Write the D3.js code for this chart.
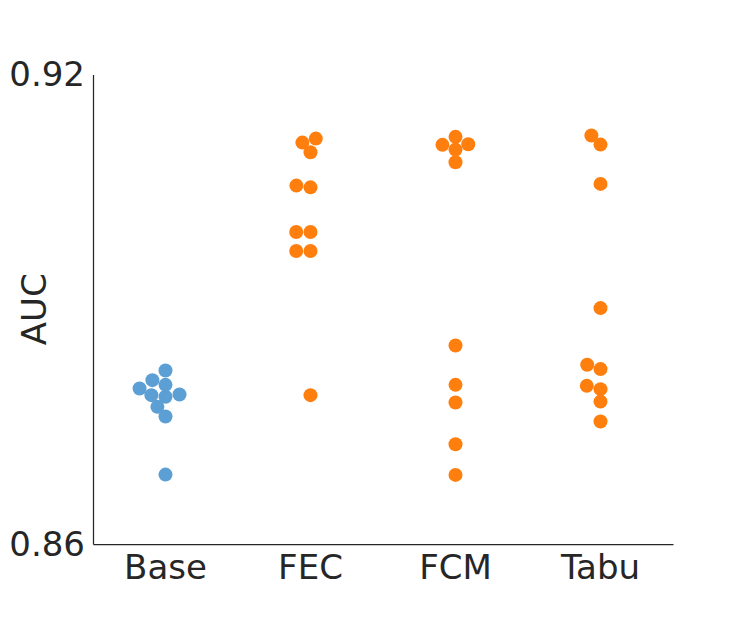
<!DOCTYPE html>
<html>
<head>
<meta charset="utf-8">
<script src="https://cdn.jsdelivr.net/npm/d3@7"></script>
<style>
  body { margin: 0; background: #fff; }
  text { font-family: "DejaVu Sans", sans-serif; fill: #262626; }
</style>
</head>
<body>
<div id="container"></div>
<script>
// data
const categories = ["Base", "FEC", "FCM", "Tabu"];
const baseAUC = [0.88217, 0.88094, 0.88034, 0.87987, 0.87902, 0.87881, 0.87910, 0.87753, 0.87629, 0.86887];
const fecAUC  = [0.91181, 0.91130, 0.91006, 0.90580, 0.90558, 0.89988, 0.89988, 0.89745, 0.89745, 0.87902];
const fcmAUC  = [0.91203, 0.91108, 0.91101, 0.91040, 0.90878, 0.88537, 0.88034, 0.87808, 0.87275, 0.86883];
const tabuAUC = [0.91220, 0.91104, 0.90602, 0.89015, 0.88290, 0.88235, 0.88021, 0.87979, 0.87820, 0.87565];
const seriesValues = [baseAUC, fecAUC, fcmAUC, tabuAUC];
const yTicks = [0.86, 0.92];
const colors = ["#5b9fd4", "#ff7f0e", "#ff7f0e", "#ff7f0e"];

// layout
const svgWidth = 747;
const svgHeight = 623;
const margin = { left: 93, right: 74, top: 74.5, bottom: 79 };
const fontSize = "34px";
const dotRadius = 7;
const collide = 11.8;   // collision distance between centres
const spread = 1.21;    // extra nudge when moving sideways

const x = d3.scaleBand()
  .domain(categories)
  .range([margin.left, svgWidth - margin.right])
  .padding(0);

const y = d3.scaleLinear()
  .domain([0.86, 0.92])
  .range([svgHeight - margin.bottom, margin.top]);

// beeswarm, placing points bottom-up like seaborn
function swarm(values, mid) {
  const pts = values.map(v => ({ v: v, x: mid, y: y(v) }))
    .sort((a, b) => a.v - b.v);
  const placed = [];
  pts.forEach(p => {
    // neighbours: walk back until one is too far vertically
    const nb = [];
    for (let j = placed.length - 1; j >= 0; j--) {
      if (Math.abs(placed[j].y - p.y) < collide) nb.push(placed[j]);
      else break;
    }
    if (nb.length === 0) { placed.push(p); return; }
    let cands = [mid];
    let leftFirst = true;
    nb.forEach(q => {
      const dy = p.y - q.y;
      const dx = Math.sqrt(Math.max(collide * collide - dy * dy, 0)) * spread;
      cands = cands.concat(leftFirst ? [q.x - dx, q.x + dx] : [q.x + dx, q.x - dx]);
      leftFirst = !leftFirst;
    });
    cands = cands.map((c, i) => ({ c, i }))
      .sort((a, b) => (Math.abs(a.c - mid) - Math.abs(b.c - mid)) || (a.i - b.i));
    const ok = cands.find(k => nb.every(q => {
      const ddx = q.x - k.c, ddy = q.y - p.y;
      return ddx * ddx + ddy * ddy >= collide * collide - 1e-9;
    }));
    p.x = ok ? ok.c : mid;
    placed.push(p);
  });
  return placed;
}

const svg = d3.select("#container")
  .append("svg")
  .attr("width", svgWidth)
  .attr("height", svgHeight);

// axes
const yAxis = svg.append("g")
  .attr("transform", `translate(${margin.left},0)`)
  .call(d3.axisLeft(y).tickValues(yTicks).tickFormat(d3.format(".2f"))
    .tickSize(0).tickSizeOuter(0).tickPadding(8));

const xAxis = svg.append("g")
  .attr("transform", `translate(0,${svgHeight - margin.bottom})`)
  .call(d3.axisBottom(x).tickSize(0).tickSizeOuter(0).tickPadding(11));

[yAxis, xAxis].forEach(g => {
  g.select(".domain").attr("stroke", "#262626").attr("stroke-width", 1.25);
  g.selectAll("text")
    .style("font-family", "'DejaVu Sans', sans-serif")
    .style("font-size", fontSize)
    .attr("fill", "#262626");
});
yAxis.selectAll("text").attr("dy", "0.33em");

svg.append("text")
  .attr("transform", `translate(46,${(margin.top + svgHeight - margin.bottom) / 2}) rotate(-90)`)
  .attr("text-anchor", "middle")
  .style("font-size", fontSize)
  .text("AUC");

// dots
categories.forEach((cat, i) => {
  const pts = swarm(seriesValues[i], x(cat) + x.bandwidth() / 2);
  svg.append("g")
    .selectAll("circle")
    .data(pts)
    .enter()
      .append("circle")
      .attr("cx", d => d.x)
      .attr("cy", d => d.y)
      .attr("r", dotRadius)
      .attr("fill", colors[i]);
});
</script>
</body>
</html>
